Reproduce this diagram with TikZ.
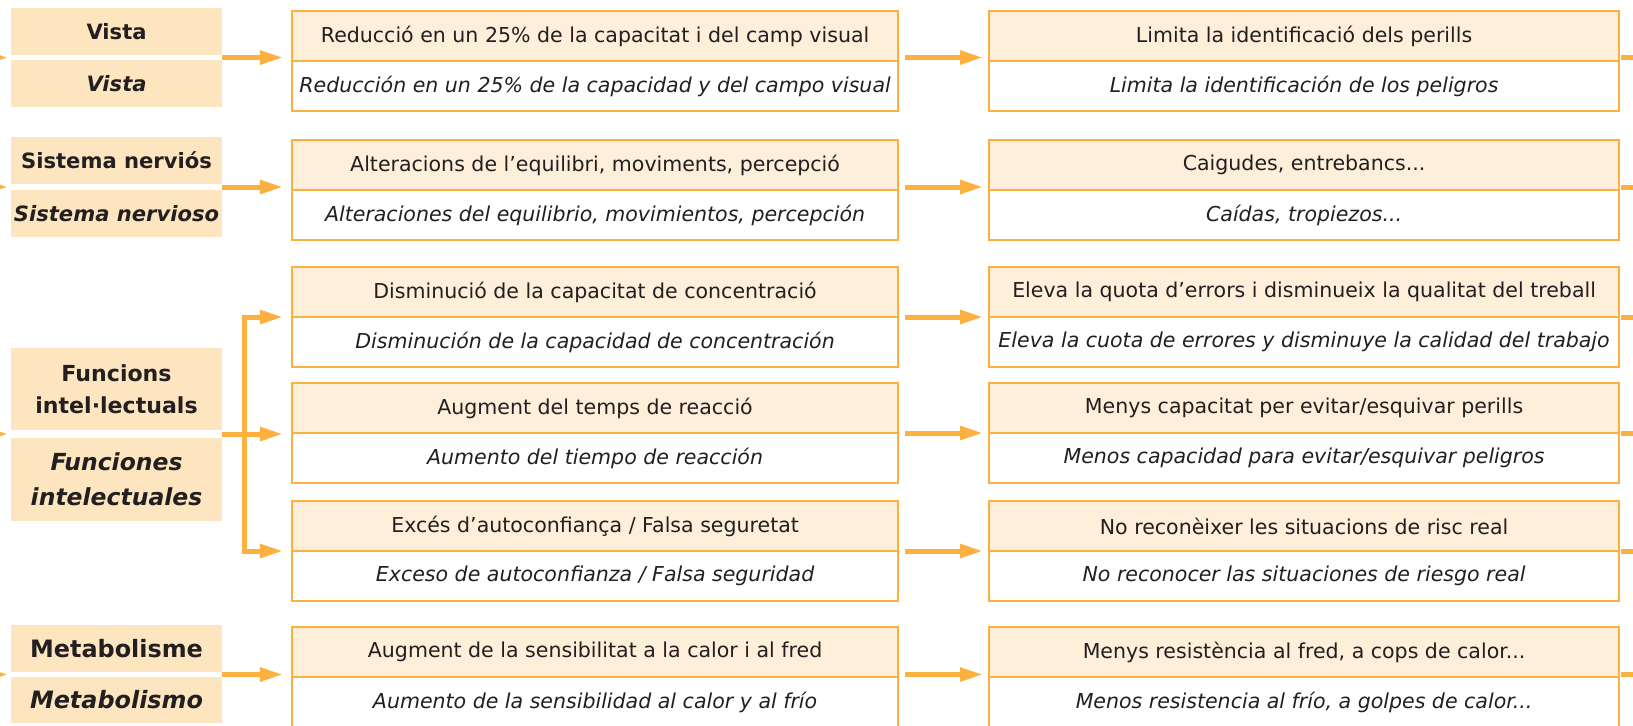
\documentclass[tikz,border=0pt]{standalone}
\usepackage{fontspec}
\setmainfont{DejaVu Sans}
\usetikzlibrary{arrows.meta,positioning,calc}
\definecolor{tmorange}{RGB}{251,176,64}
\definecolor{tmpeach}{RGB}{253,229,192}
\definecolor{tmcream}{RGB}{253,239,217}
\definecolor{tmink}{RGB}{35,31,32}

\tikzset{
  labca/.style={fill=tmpeach, text=tmink, font=\bfseries\fontsize{15}{18}\selectfont,
    minimum width=5.275cm, minimum height=1.175cm, inner sep=0pt, outer sep=0pt, align=center},
  labes/.style={labca, font=\bfseries\itshape\fontsize{15}{18}\selectfont},
  cellca/.style={draw=tmorange, fill=tmcream, line width=1pt, text=tmink,
    font=\fontsize{14.6}{17}\selectfont, minimum height=1.25cm, inner sep=0pt, outer sep=0pt},
  celles/.style={cellca, fill=white, font=\itshape\fontsize{14.6}{17}\selectfont},
  effect/.style={minimum width=15.15cm},
  result/.style={minimum width=15.75cm},
  flow/.style={draw=tmorange, line width=0.125cm, -{Triangle[length=0.575cm,width=0.33cm]}},
  stub/.style={draw=tmorange, line width=0.125cm},
}

\begin{document}
\begin{tikzpicture}[x=0.025cm,y=-0.025cm]
  \useasboundingbox (0,0) rectangle (1633,725);
  \coordinate (inL) at (-40,0);
  \coordinate (outR) at (1680,0);

  % left column: affected functions
  \node[labca,anchor=north west] (labVisCa) at (11,8) {Vista};
  \node[labes,below=0.125cm of labVisCa] (labVisEs) {Vista};
  \node[labca,anchor=north west] (labSisCa) at (11,137) {Sistema nerviós};
  \node[labes,below=0.15cm of labSisCa] (labSisEs) {Sistema nervioso};
  \node[labca,anchor=north west,minimum height=2.05cm,
    font=\bfseries\fontsize{15.7}{22.7}\selectfont] (labFunCa) at (11,348) {Funcions\\intel·lectuals};
  \node[labes,below=0.2cm of labFunCa,minimum height=2.075cm,
    font=\bfseries\itshape\fontsize{16.7}{24.9}\selectfont] (labFunEs) {Funciones\\intelectuales};
  \node[labca,anchor=north west,font=\bfseries\fontsize{17}{20}\selectfont] (labMetCa) at (11,625) {Metabolisme};
  \node[labes,below=0.125cm of labMetCa,minimum height=1.15cm,
    font=\bfseries\itshape\fontsize{17}{20}\selectfont] (labMetEs) {Metabolismo};

  % middle column: effects
  \node[cellca,effect,anchor=north west] (effVisCa) at (292,11) {Reducció en un 25\% de la capacitat i del camp visual};
  \node[celles,effect,below=0pt of effVisCa] (effVisEs) {Reducción en un 25\% de la capacidad y del campo visual};
  \node[cellca,effect,anchor=north west] (effSisCa) at (292,140) {Alteracions de l’equilibri, moviments, percepció};
  \node[celles,effect,below=0pt of effSisCa] (effSisEs) {Alteraciones del equilibrio, movimientos, percepción};
  \node[cellca,effect,anchor=north west] (effDisCa) at (292,267) {Disminució de la capacitat de concentració};
  \node[celles,effect,below=0pt of effDisCa] (effDisEs) {Disminución de la capacidad de concentración};
  \node[cellca,effect,anchor=north west] (effAugCa) at (292,383) {Augment del temps de reacció};
  \node[celles,effect,below=0pt of effAugCa] (effAugEs) {Aumento del tiempo de reacción};
  \node[cellca,effect,anchor=north west] (effExcCa) at (292,501) {Excés d’autoconfiança / Falsa seguretat};
  \node[celles,effect,below=0pt of effExcCa] (effExcEs) {Exceso de autoconfianza / Falsa seguridad};
  \node[cellca,effect,anchor=north west] (effMetCa) at (292,627) {Augment de la sensibilitat a la calor i al fred};
  \node[celles,effect,below=0pt of effMetCa] (effMetEs) {Aumento de la sensibilidad al calor y al frío};

  % right column: consequences
  \node[cellca,result,anchor=north west] (conVisCa) at (989,11) {Limita la identificació dels perills};
  \node[celles,result,below=0pt of conVisCa] (conVisEs) {Limita la identificación de los peligros};
  \node[cellca,result,anchor=north west] (conSisCa) at (989,140) {Caigudes, entrebancs...};
  \node[celles,result,below=0pt of conSisCa] (conSisEs) {Caídas, tropiezos...};
  \node[cellca,result,anchor=north west] (conDisCa) at (989,267) {Eleva la quota d’errors i disminueix la qualitat del treball};
  \node[celles,result,below=0pt of conDisCa] (conDisEs) {Eleva la cuota de errores y disminuye la calidad del trabajo};
  \node[cellca,result,anchor=north west] (conAugCa) at (989,383) {Menys capacitat per evitar/esquivar perills};
  \node[celles,result,below=0pt of conAugCa] (conAugEs) {Menos capacidad para evitar/esquivar peligros};
  \node[cellca,result,anchor=north west] (conExcCa) at (989,501) {No reconèixer les situacions de risc real};
  \node[celles,result,below=0pt of conExcCa] (conExcEs) {No reconocer las situaciones de riesgo real};
  \node[cellca,result,anchor=north west] (conMetCa) at (989,627) {Menys resistència al fred, a cops de calor...};
  \node[celles,result,below=0pt of conMetCa] (conMetEs) {Menos resistencia al frío, a golpes de calor...};

  % arrow levels
  \coordinate (gapVis) at ($(labVisCa.south)!.5!(labVisEs.north)$);
  \coordinate (gapSis) at ($(labSisCa.south)!.5!(labSisEs.north)$);
  \coordinate (gapFun) at ($(labFunCa.south)!.5!(labFunEs.north)$);
  \coordinate (gapMet) at ($(labMetCa.south)!.5!(labMetEs.north)$);
  \coordinate (fork) at ($(gapFun -| labFunCa.east)+(22,0)$);

  % incoming arrows
  \draw[flow,shorten >=0.075cm] (gapVis -| inL) -- (gapVis -| labVisCa.west);
  \draw[flow,shorten >=0.075cm] (gapSis -| inL) -- (gapSis -| labSisCa.west);
  \draw[flow,shorten >=0.075cm] (gapFun -| inL) -- (gapFun -| labFunCa.west);
  \draw[flow,shorten >=0.075cm] (gapMet -| inL) -- (gapMet -| labMetCa.west);

  % functions to effects
  \draw[flow,shorten >=0.225cm] (gapVis -| labVisCa.east) -- (gapVis -| effVisCa.west);
  \draw[flow,shorten >=0.225cm] (gapSis -| labSisCa.east) -- (gapSis -| effSisCa.west);
  \draw[flow,shorten >=0.225cm] (gapFun -| labFunCa.east) -- (gapFun -| effAugCa.west);
  \draw[flow,shorten >=0.225cm] (fork) |- (effDisCa.south west);
  \draw[flow,shorten >=0.225cm] (fork) |- (effExcCa.south west);
  \draw[flow,shorten >=0.225cm] (gapMet -| labMetCa.east) -- (gapMet -| effMetCa.west);

  % effects to consequences
  \draw[flow,shorten <=0.175cm,shorten >=0.15cm] (gapVis -| effVisCa.east) -- (gapVis -| conVisCa.west);
  \draw[flow,shorten <=0.175cm,shorten >=0.15cm] (gapSis -| effSisCa.east) -- (gapSis -| conSisCa.west);
  \draw[flow,shorten <=0.175cm,shorten >=0.15cm] (effDisCa.south east) -- (conDisCa.south west);
  \draw[flow,shorten <=0.175cm,shorten >=0.15cm] (effAugCa.south east) -- (conAugCa.south west);
  \draw[flow,shorten <=0.175cm,shorten >=0.15cm] (effExcCa.south east) -- (conExcCa.south west);
  \draw[flow,shorten <=0.175cm,shorten >=0.15cm] (gapMet -| effMetCa.east) -- (gapMet -| conMetCa.west);

  % outgoing stubs
  \draw[stub,shorten <=0.05cm] (gapVis -| conVisCa.east) -- (gapVis -| outR);
  \draw[stub,shorten <=0.05cm] (gapSis -| conSisCa.east) -- (gapSis -| outR);
  \draw[stub,shorten <=0.05cm] (conDisCa.south east) -- (conDisCa.south east -| outR);
  \draw[stub,shorten <=0.05cm] (conAugCa.south east) -- (conAugCa.south east -| outR);
  \draw[stub,shorten <=0.05cm] (conExcCa.south east) -- (conExcCa.south east -| outR);
  \draw[stub,shorten <=0.05cm] (gapMet -| conMetCa.east) -- (gapMet -| outR);
\end{tikzpicture}
\end{document}
